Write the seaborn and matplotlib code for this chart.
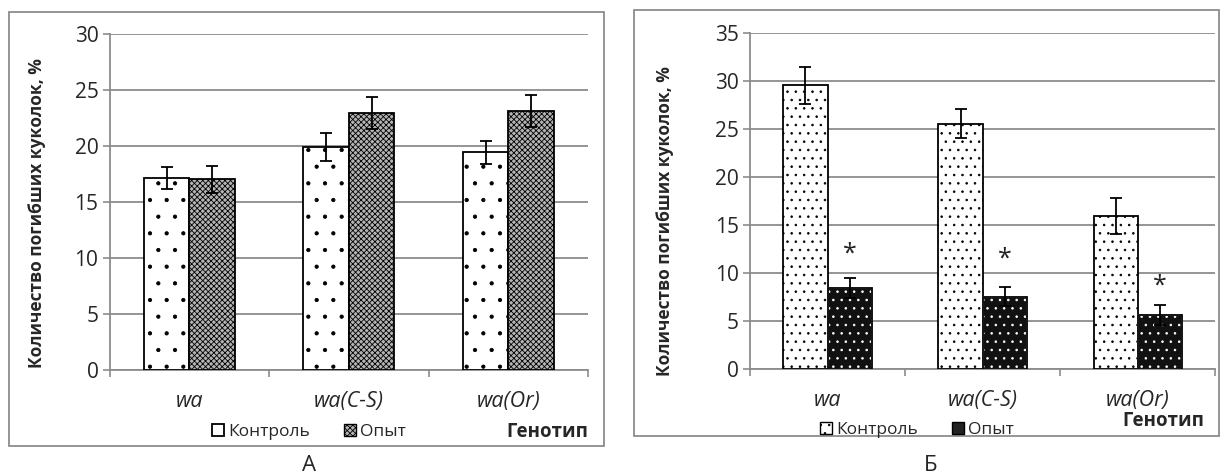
import matplotlib
matplotlib.use("Agg")
import matplotlib.pyplot as plt
import seaborn as sns
import pandas as pd
from matplotlib.patches import Rectangle, Patch

genotypes = ["wa", "wa(C-S)", "wa(Or)"]
groups = ["Контроль", "Опыт"]

# panel А
a_control = [17.1, 19.9, 19.4]
a_control_err = [1.0, 1.25, 1.05]
a_exp = [17.0, 22.9, 23.1]
a_exp_err = [1.2, 1.4, 1.45]

# panel Б
b_control = [29.5, 25.5, 15.9]
b_control_err = [1.9, 1.5, 1.9]
b_exp = [8.4, 7.5, 5.6]
b_exp_err = [1.05, 1.0, 1.0]
b_star_y = [11.9, 11.4, 8.65]

sns.set_theme(style="white")
plt.rcParams["font.family"] = ["Open Sans", "DejaVu Sans"]
plt.rcParams["hatch.linewidth"] = 0.6

GRID = "#8c8c8c"


def make_df(control, exp):
    return pd.DataFrame({
        "genotype": genotypes * 2,
        "group": [groups[0]] * 3 + [groups[1]] * 3,
        "value": control + exp,
    })


def style_bars(ax, hatches, faces, hatch_colors):
    for cont, h, fc, hc in zip(ax.containers, hatches, faces, hatch_colors):
        for p in cont.patches:
            p.set_facecolor(fc)
            p.set_hatch(h)
            if hc != "black":
                # hatch takes the edge colour, so redraw the outline on top
                p.set_edgecolor(hc)
                ax.add_patch(Rectangle(p.get_xy(), p.get_width(), p.get_height(),
                                       fill=False, edgecolor="black",
                                       linewidth=1.3, zorder=3.5))


def draw_panel(ax, control, c_err, exp, e_err, ymax, hatches, faces, hatch_colors):
    df = make_df(control, exp)
    sns.barplot(data=df, x="genotype", y="value", hue="group", order=genotypes,
                hue_order=groups, width=0.57, errorbar=None, edgecolor="black",
                linewidth=1.3, palette=["white", "white"], ax=ax, legend=False,
                zorder=3)
    style_bars(ax, hatches, faces, hatch_colors)

    # error bars on top of the bars
    for cont, errs in zip(ax.containers, [c_err, e_err]):
        xs = [p.get_x() + p.get_width() / 2 for p in cont.patches]
        ys = [p.get_height() for p in cont.patches]
        ax.errorbar(xs, ys, yerr=errs, fmt="none", ecolor="black",
                    elinewidth=1.3, capsize=4.5, capthick=1.3, zorder=4)

    ax.set_ylim(0, ymax)
    ax.set_xlim(-0.5, 2.5)
    ax.set_yticks(range(0, ymax + 1, 5))
    ax.yaxis.grid(True, color=GRID, linewidth=1.3)
    ax.set_axisbelow(True)
    for s in ["top", "right"]:
        ax.spines[s].set_visible(False)
    for s in ["left", "bottom"]:
        ax.spines[s].set_color(GRID)
        ax.spines[s].set_linewidth(1.3)
    ax.tick_params(axis="y", left=True, length=5, color=GRID, width=1.2,
                   labelsize=15, pad=3)
    ax.tick_params(axis="x", which="major", length=0, pad=15, labelsize=15.5)
    ax.set_xticks([-0.5, 0.5, 1.5, 2.5], minor=True)
    ax.tick_params(axis="x", which="minor", bottom=True, length=5, color=GRID,
                   width=1.2)
    for lab in ax.get_xticklabels():
        lab.set_style("italic")
    ax.set_xlabel("")
    ax.set_ylabel("Количество погибших куколок, %", fontsize=12.5,
                  fontweight="bold")
    return ax


fig = plt.figure(figsize=(12.21, 4.76), dpi=100)

ax_a = fig.add_axes([0.0897, 0.2233, 0.392, 0.7063])
draw_panel(ax_a, a_control, a_control_err, a_exp, a_exp_err, 30,
           [".", "xxxxxx"], ["white", "#b4b4b4"], ["black", "black"])
ax_a.yaxis.set_label_coords(-0.132, 0.465)

ax_b = fig.add_axes([0.6143, 0.2254, 0.381, 0.7063])
draw_panel(ax_b, b_control, b_control_err, b_exp, b_exp_err, 35,
           ["..", ".."], ["white", "#111111"], ["black", "white"])
ax_b.yaxis.set_label_coords(-0.163, 0.44)

# significance marks above the experimental bars
for p, sy in zip(ax_b.containers[1].patches, b_star_y):
    ax_b.text(p.get_x() + p.get_width() / 2, sy, "*", ha="center",
              va="center", fontsize=18, color="#222222")

# legend swatches
handles_a = [Patch(facecolor="white", edgecolor="black", linewidth=1.3),
             Patch(facecolor="#b4b4b4", edgecolor="black", hatch="xxxxxx",
                   linewidth=1.0)]
handles_b = [Patch(facecolor="white", edgecolor="black", hatch="..",
                   linewidth=1.0),
             Patch(facecolor="#222222", edgecolor="black", linewidth=1.0)]

# legends and axis titles
for handles, cx, cy, gx, gy in [(handles_a, 309, 432, 588, 432),
                                (handles_b, 917, 430, 1204, 421)]:
    fig.legend(handles, groups, loc="center",
               bbox_to_anchor=(cx / 1221, 1 - cy / 476), ncol=2, frameon=False,
               fontsize=12.5, handlelength=0.7, handleheight=0.7,
               handletextpad=0.2, columnspacing=2.0, borderpad=0)
    fig.text(gx / 1221, 1 - gy / 476, "Генотип", ha="right", va="center",
             fontsize=13.5, fontweight="bold")

fig.text(309 / 1221, 1 - 471 / 476, "А", ha="center", va="baseline", fontsize=16)
fig.text(931 / 1221, 1 - 471 / 476, "Б", ha="center", va="baseline", fontsize=16)

# frames around each panel
fig.add_artist(Rectangle((0.007, 0.063), 0.4876, 0.9124, transform=fig.transFigure,
                         fill=False, edgecolor=GRID, linewidth=1.3))
fig.add_artist(Rectangle((0.519, 0.084), 0.479, 0.895, transform=fig.transFigure,
                         fill=False, edgecolor=GRID, linewidth=1.3))

fig.savefig("out.png", dpi=100)
